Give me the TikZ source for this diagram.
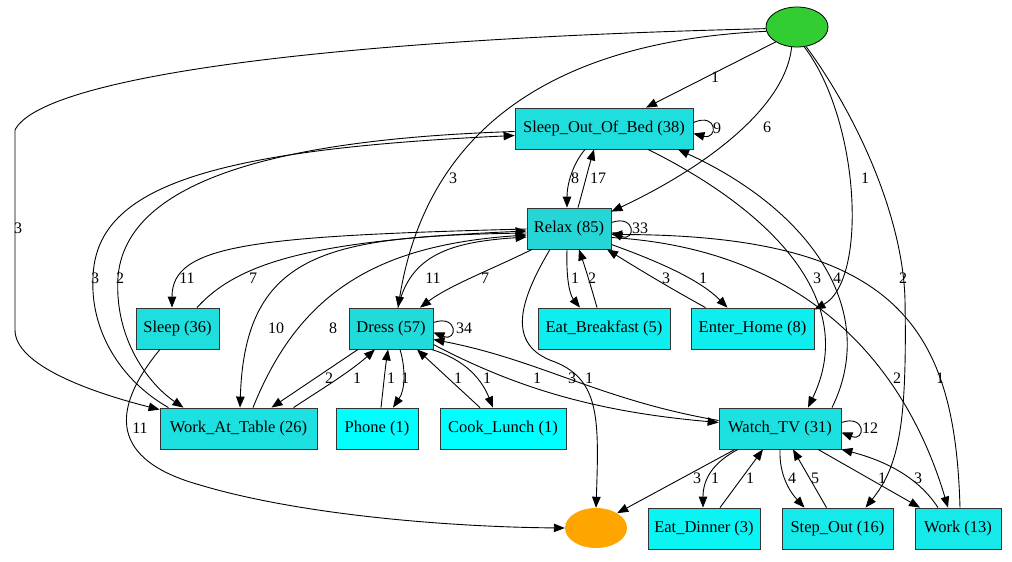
\documentclass[tikz,border=0pt]{standalone}
\usepackage{fontspec}
\setmainfont{Liberation Serif}
\newfontfamily\tnr{Liberation Serif}
\usetikzlibrary{arrows.meta,shapes.geometric}
\definecolor{fA}{RGB}{38,214,214}
\definecolor{fB}{RGB}{33,219,219}
\definecolor{fC}{RGB}{31,222,222}
\definecolor{fD}{RGB}{29,225,225}
\definecolor{fE}{RGB}{22,233,233}
\definecolor{fF}{RGB}{15,238,238}
\definecolor{fG}{RGB}{10,244,244}
\definecolor{fH}{RGB}{0,255,255}
\definecolor{startgreen}{RGB}{50,205,50}
\definecolor{endorange}{RGB}{255,165,0}
\begin{document}
\begin{tikzpicture}[x=1pt,y=-1pt,
  box/.style={draw=black!80, line width=0.8pt, minimum height=41pt, inner sep=0pt, font=\tnr\fontsize{16.5}{18}\selectfont},
  e/.style={-{Triangle[length=11pt,width=8.5pt]}, line width=0.9pt},
  lbl/.style={font=\tnr\fontsize{16}{17}\selectfont, inner sep=0pt}]
\useasboundingbox (0,0) rectangle (1012,562);

% nodes
\node[ellipse, draw=black, line width=0.8pt, fill=startgreen, minimum width=62pt, minimum height=40pt, inner sep=0pt] (start) at (797,27) {};
\node[ellipse, fill=endorange, minimum width=62pt, minimum height=40pt, inner sep=0pt] (end) at (596,528) {};
\node[box, fill=fC, minimum width=178pt] (soob) at (604,128.5) {Sleep\_Out\_Of\_Bed (38)};
\node[box, fill=fA, minimum width=84pt] (relax) at (569,228.5) {Relax (85)};
\node[box, fill=fC, minimum width=83pt] (sleep) at (177.5,328.5) {Sleep (36)};
\node[box, fill=fB, minimum width=84pt] (dress) at (391,328.5) {Dress (57)};
\node[box, fill=fF, minimum width=132pt] (eb) at (604,328.5) {Eat\_Breakfast (5)};
\node[box, fill=fF, minimum width=123pt] (eh) at (752.5,328.5) {Enter\_Home (8)};
\node[box, fill=fD, minimum width=157pt] (wat) at (238.5,428.5) {Work\_At\_Table (26)};
\node[box, fill=fH, minimum width=82pt] (phone) at (377,428.5) {Phone (1)};
\node[box, fill=fH, minimum width=126pt] (cl) at (503,428.5) {Cook\_Lunch (1)};
\node[box, fill=fD, minimum width=122pt] (wtv) at (780,428.5) {Watch\_TV (31)};
\node[box, fill=fG, minimum width=112pt] (ed) at (704,528.5) {Eat\_Dinner (3)};
\node[box, fill=fE, minimum width=111pt] (so) at (837.5,528.5) {Step\_Out (16)};
\node[box, fill=fE, minimum width=86pt] (work) at (958,528.5) {Work (13)};

% edges from start
\draw[e] (start.183) .. controls (300,40) and (40,80) .. (15,130) -- (15,330) .. controls (15,365) and (90,392) .. ([yshift=-2pt]wat.north west);
\draw[e] (start.188) .. controls (580,40) and (430,110) .. ([xshift=7pt]dress.north);
\draw[e] (start.215) -- ([xshift=42pt]soob.north);
\draw[e] (start.255) .. controls (785,110) and (700,170) .. ([yshift=-4pt]relax.north east);
\draw[e] (start.290) .. controls (860,120) and (868,280) .. ([yshift=-2pt]eh.north east);
\draw[e] (start.295) .. controls (860,120) and (903,220) .. (905,300) .. controls (907,420) and (900,465) .. ([xshift=28pt]so.north);

% Sleep_Out_Of_Bed
\draw[e] ([yshift=6pt]soob.east) .. controls (718,112) and (718,140) .. ([yshift=-5pt]soob.east);
\draw[e] ([xshift=-19pt]soob.south) .. controls (572,165) and (567,185) .. ([xshift=-2pt]relax.north);
\draw[e] ([xshift=9pt]relax.north) .. controls (583,190) and (588,170) .. ([xshift=-10pt]soob.south);
\draw[e] ([xshift=-70pt]wat.north) .. controls (120,380) and (90,330) .. (93,277) .. controls (96,190) and (200,150) .. ([yshift=-7pt]soob.west);
\draw[e] ([yshift=-3pt]soob.west) .. controls (250,140) and (125,190) .. (118,277) .. controls (114,340) and (150,385) .. ([xshift=-55pt]wat.north);
\draw[e] ([xshift=44pt]soob.south) .. controls (770,210) and (860,300) .. ([xshift=28pt]wtv.north);
\draw[e] ([xshift=52pt]wtv.north) .. controls (880,310) and (810,210) .. ([xshift=74pt]soob.south);

% Relax
\draw[e] ([yshift=6pt]relax.east) .. controls (636,214) and (636,242) .. ([yshift=-4pt]relax.east);
\draw[e] ([yshift=-0.5pt]relax.west) .. controls (250,236) and (172,245) .. ([xshift=-5.5pt]sleep.north);
\draw[e] ([xshift=19.5pt]sleep.north) .. controls (240,260) and (320,240) .. ([yshift=-2.5pt]relax.west);
\draw[e] ([yshift=-4.5pt]relax.west) .. controls (330,236) and (245,250) .. ([xshift=1.5pt]wat.north);
\draw[e] ([xshift=14.5pt]wat.north) .. controls (300,290) and (380,245) .. ([yshift=-6.5pt]relax.west);
\draw[e] ([xshift=-37pt]relax.south) .. controls (495,268) and (450,285) .. ([xshift=29pt]dress.north);
\draw[e] ([xshift=7pt]dress.north) .. controls (410,255) and (450,242) .. ([yshift=-8.5pt]relax.west);
\draw[e] ([xshift=-2pt]relax.south) .. controls (566,280) and (570,295) .. ([xshift=-24pt]eb.north);
\draw[e] ([xshift=-7pt]eb.north) .. controls (592,290) and (586,270) .. ([xshift=10pt]relax.south);
\draw[e] ([yshift=-16pt]relax.east) .. controls (660,262) and (700,280) .. ([xshift=-25pt]eh.north);
\draw[e] ([xshift=-47pt]eh.north) .. controls (670,288) and (640,270) .. ([xshift=38pt]relax.south);
\draw[e] ([xshift=-19pt]relax.south) .. controls (520,300) and (505,345) .. (555,362) .. controls (600,380) and (599,420) .. (end.north);
\draw[e] ([yshift=-9pt]relax.east) .. controls (820,250) and (910,380) .. ([xshift=-10pt]work.north);
\draw[e] ([xshift=2pt]work.north) .. controls (955,330) and (900,235) .. ([yshift=-6pt]relax.east);

% Dress
\draw[e] ([yshift=6pt]dress.east) .. controls (458,314) and (458,342) .. ([yshift=-4pt]dress.east);
\draw[e] ([xshift=-33pt]dress.south) -- ([xshift=33pt]wat.north);
\draw[e] ([xshift=55pt]wat.north) .. controls (320,390) and (350,372) .. ([xshift=-16pt]dress.south);
\draw[e] ([xshift=4pt]phone.north) .. controls (383,390) and (385,370) .. ([xshift=-3pt]dress.south);
\draw[e] ([xshift=9pt]dress.south) .. controls (406,370) and (405,390) .. ([xshift=16pt]phone.north);
\draw[e] ([xshift=-23pt]cl.north) -- ([xshift=26pt]dress.south);
\draw[e] ([xshift=-2pt]dress.south east) .. controls (460,358) and (480,375) .. ([xshift=-10pt]cl.north);
\draw[e] ([yshift=8pt]wtv.west) .. controls (600,400) and (540,360) .. ([yshift=-11pt]dress.east);
\draw[e] ([yshift=-16pt]dress.east) .. controls (520,390) and (600,412) .. ([yshift=6pt]wtv.west);

% Sleep
\draw[e] ([xshift=-17.5pt]sleep.south) .. controls (110,410) and (110,460) .. (200,485) .. controls (300,515) and (450,527) .. (end.west);

% Watch_TV
\draw[e] ([yshift=6pt]wtv.east) .. controls (866,414) and (866,442) .. ([yshift=-4pt]wtv.east);
\draw[e] ([xshift=-45pt]wtv.south) -- (end.35);
\draw[e] ([xshift=-42pt]wtv.south) .. controls (712,463) and (703,480) .. ([xshift=-1pt]ed.north);
\draw[e] ([xshift=16pt]ed.north) -- ([xshift=-17pt]wtv.south);
\draw[e] (wtv.south) .. controls (779,475) and (790,492) .. ([xshift=-33pt]so.north);
\draw[e] ([xshift=-11pt]so.north) -- ([xshift=13pt]wtv.south);
\draw[e] ([xshift=38pt]wtv.south) -- ([xshift=-38pt]work.north);
\draw[e] ([xshift=-20pt]work.north) .. controls (920,480) and (890,462) .. (wtv.south east);

% labels
\node[lbl] (l1) at (18,228) {3};
\node[lbl] (l2) at (453,178) {3};
\node[lbl] (l3) at (715,77) {1};
\node[lbl] (l4) at (767,127) {6};
\node[lbl] (l5) at (865,178) {1};
\node[lbl] (l6) at (903,278) {2};
\node[lbl] (l7) at (717,128) {9};
\node[lbl] (l8) at (575,178) {8};
\node[lbl] (l9) at (598,178) {17};
\node[lbl] (l10) at (95,278) {3};
\node[lbl] (l11) at (120,278) {2};
\node[lbl] (l12) at (817,278) {3};
\node[lbl] (l13) at (837,278) {4};
\node[lbl] (l14) at (640,228) {33};
\node[lbl] (l15) at (187,278) {11};
\node[lbl] (l16) at (253,278) {7};
\node[lbl] (l17) at (276,328) {10};
\node[lbl] (l18) at (333,328) {8};
\node[lbl] (l19) at (433,278) {11};
\node[lbl] (l20) at (485,278) {7};
\node[lbl] (l21) at (575,278) {1};
\node[lbl] (l22) at (592,278) {2};
\node[lbl] (l23) at (666,278) {3};
\node[lbl] (l24) at (703,278) {1};
\node[lbl] (l25) at (589,378) {1};
\node[lbl] (l26) at (897,378) {2};
\node[lbl] (l27) at (940,378) {1};
\node[lbl] (l28) at (464,328) {34};
\node[lbl] (l29) at (329,378) {2};
\node[lbl] (l30) at (357,378) {1};
\node[lbl] (l31) at (391,378) {1};
\node[lbl] (l32) at (405,378) {1};
\node[lbl] (l33) at (458,378) {1};
\node[lbl] (l34) at (487,378) {1};
\node[lbl] (l35) at (537,378) {1};
\node[lbl] (l36) at (572,378) {3};
\node[lbl] (l37) at (140,428) {11};
\node[lbl] (l38) at (870,428) {12};
\node[lbl] (l39) at (697,478) {3};
\node[lbl] (l40) at (715,478) {1};
\node[lbl] (l41) at (750,478) {1};
\node[lbl] (l42) at (792,478) {4};
\node[lbl] (l43) at (815,478) {5};
\node[lbl] (l44) at (882,478) {1};
\node[lbl] (l45) at (918,478) {3};
\end{tikzpicture}
\end{document}
